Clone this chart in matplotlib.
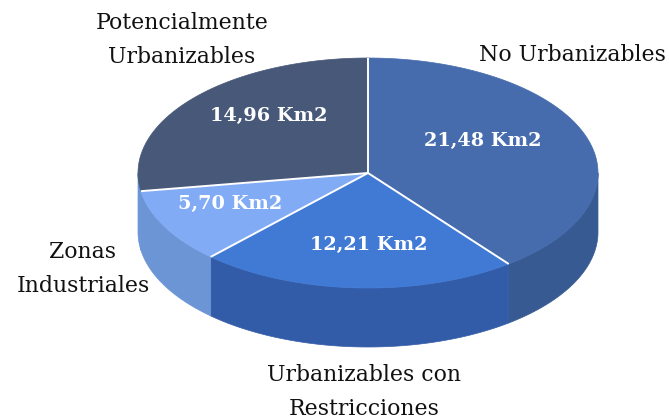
import numpy as np
import matplotlib
matplotlib.use('Agg')
import matplotlib.pyplot as plt
from matplotlib.patches import Polygon

categories = ['No Urbanizables', 'Urbanizables con\nRestricciones', 'Zonas\nIndustriales', 'Potencialmente\nUrbanizables']
values = [21.48, 12.21, 5.70, 14.96]
value_labels = ['21,48 Km2', '12,21 Km2', '5,70 Km2', '14,96 Km2']
top_colors = ['#466CAE', '#417AD4', '#82ABF5', '#475878']
side_colors = ['#385A92', '#335CA8', '#6C95D6', '#6C95D6']

W, H = 669, 420
fig = plt.figure(figsize=(W/100, H/100), dpi=100)
ax = fig.add_axes([0, 0, 1, 1])
ax.set_xlim(0, W); ax.set_ylim(H, 0); ax.axis('off')

cx, cy, rx, ry, depth = 368, 173, 230, 115, 59
start = 90.0
total = sum(values)
angles = [start]
for v in values:
    angles.append(angles[-1] - 360*v/total)

def arc(a0, a1, n=120):
    t = np.radians(np.linspace(a0, a1, n))
    return cx + rx*np.cos(t), cy - ry*np.sin(t)

# side walls (front half only)
for i in range(len(values)):
    a0, a1 = angles[i], angles[i+1]
    lo, hi = max(a1, -180), min(a0, 0)
    if hi > lo:
        x, y = arc(hi, lo)
        pts = np.r_[np.c_[x, y], np.c_[x[::-1], y[::-1]+depth]]
        ax.add_patch(Polygon(pts, closed=True, fc=side_colors[i], ec=side_colors[i], lw=0.5, zorder=1))
# top slices
for i in range(len(values)):
    x, y = arc(angles[i], angles[i+1])
    pts = np.r_[[[cx, cy]], np.c_[x, y]]
    ax.add_patch(Polygon(pts, closed=True, fc=top_colors[i], ec=top_colors[i], lw=0.5, zorder=2))
# white separators between slices only
for a in angles[:-1]:
    x, y = arc(a, a, 1)
    ax.plot([cx, x[0]], [cy, y[0]], color='white', lw=1.4, zorder=3, solid_capstyle='butt')

font = 'DejaVu Serif'
label_xy = [(572, 55), (364, 392), (83, 269), (182, 40)]
for c, (x, y) in zip(categories, label_xy):
    ax.text(x, y, c, ha='center', va='center', fontsize=15.8, family=font,
            color='#111111', linespacing=1.65, clip_on=False)
val_xy = [(483, 141), (369, 245), (230, 204), (269, 116)]
for c, (x, y) in zip(value_labels, val_xy):
    ax.text(x, y, c, ha='center', va='center', fontsize=13.9, family=font,
            color='white', fontweight='bold', zorder=4)

fig.savefig('out.png', dpi=100)
